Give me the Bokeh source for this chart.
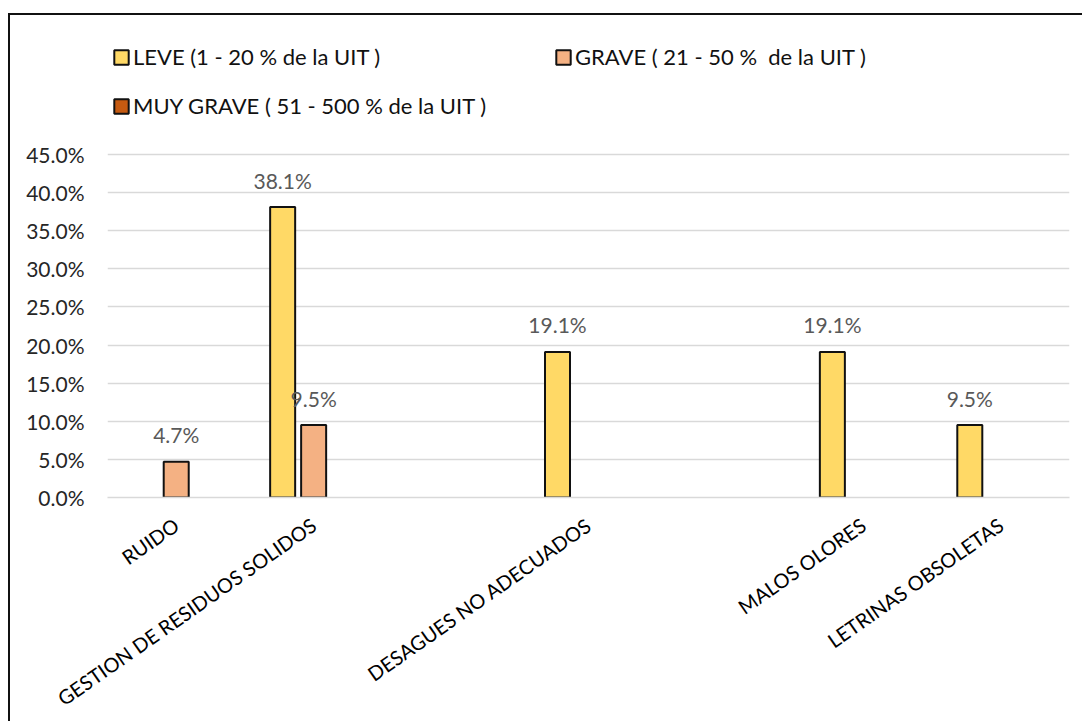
import math
from bokeh.plotting import figure
from bokeh.models import (ColumnDataSource, FixedTicker, PrintfTickFormatter, Legend,
                          LegendItem, Range1d, Spacer)
from bokeh.layouts import column, row
from bokeh.embed import file_html
from bokeh.resources import INLINE
from bokeh.core.properties import value

# ---------------- data ----------------
categories = ["RUIDO", "GESTION DE RESIDUOS SOLIDOS", "", "DESAGUES NO ADECUADOS", "",
              "MALOS OLORES", "LETRINAS OBSOLETAS"]
series_names = ["LEVE (1 - 20 % de la UIT )",
                "GRAVE ( 21 - 50 %  de la UIT )",
                "MUY GRAVE ( 51 - 500 % de la UIT )"]
leve = [None, 38.1, None, 19.1, None, 19.1, 9.5]
grave = [4.7, 9.5, None, None, None, None, None]
muy_grave = [None, None, None, None, None, None, None]
y_ticks = [0, 5, 10, 15, 20, 25, 30, 35, 40, 45]
colors = ["#FFD966", "#F4B183", "#C55A11"]

FONT = "Lato"

p = figure(width=1074, height=708, output_backend="svg", toolbar_location=None,
           x_range=Range1d(-0.5, len(categories) - 0.5), y_range=Range1d(0, 60.22),
           min_border_left=97, min_border_right=15, min_border_top=23, min_border_bottom=226)
p.outline_line_color = None
p.background_fill_color = "white"
p.border_fill_color = "white"
p.styles = {"border-left": "2px solid #111111", "border-top": "2px solid #111111"}

pitch = 0.2255
bar_w = 0.182
renderers = []
for k, (vals, col) in enumerate(zip([leve, grave, muy_grave], colors)):
    off = (k - 1) * pitch
    xs = [i + off for i in range(len(vals))]
    tops = [float("nan") if v is None else v for v in vals]
    src = ColumnDataSource(dict(x=xs, top=tops))
    r = p.vbar(x="x", top="top", width=bar_w, source=src, fill_color=col,
               line_color="#111111", line_width=2)
    renderers.append(r)
    lx = [i + off for i, v in enumerate(vals) if v is not None]
    ly = [v for v in vals if v is not None]
    lsrc = ColumnDataSource(dict(x=lx, y=ly, label=[f"{v:.1f}%" for v in ly]))
    p.text(x="x", y="y", text="label", source=lsrc, text_align="center",
           text_baseline="alphabetic", y_offset=-27, text_color="#595959",
           text_font=value(FONT), text_font_size="21px")

# axes
p.yaxis.ticker = FixedTicker(ticks=y_ticks)
p.yaxis.formatter = PrintfTickFormatter(format="%.1f%%")
p.yaxis.axis_line_color = None
p.yaxis.major_tick_line_color = None
p.yaxis.minor_tick_line_color = None
p.yaxis.major_tick_out = 0
p.yaxis.major_label_standoff = 23
p.yaxis.major_label_text_font = FONT
p.yaxis.major_label_text_font_size = "21px"
p.yaxis.major_label_text_color = "#262626"

p.xaxis.ticker = FixedTicker(ticks=list(range(len(categories))))
p.xaxis.major_label_overrides = {i: c for i, c in enumerate(categories)}
p.xaxis.axis_line_color = "#d9d9d9"
p.xaxis.axis_line_width = 1.5
p.xaxis.major_tick_line_color = None
p.xaxis.minor_tick_line_color = None
p.xaxis.major_tick_out = 0
p.xaxis.major_label_orientation = math.radians(35)
p.xaxis.major_label_standoff = 25
p.xaxis.major_label_text_font = FONT
p.xaxis.major_label_text_font_size = "20px"
p.xaxis.major_label_text_color = "black"

p.xgrid.grid_line_color = None
p.ygrid.ticker = FixedTicker(ticks=y_ticks)
p.ygrid.grid_line_color = "#d9d9d9"
p.ygrid.grid_line_width = 1.5

legend = Legend(items=[LegendItem(label=n, renderers=[r], index=0)
                       for n, r in zip(series_names, renderers)],
                location="top_left", orientation="horizontal", ncols=2,
                margin=5, padding=0, spacing=22, label_width=399, label_height=24,
                glyph_width=18, glyph_height=18, label_standoff=3,
                border_line_color=None, background_fill_alpha=0,
                label_text_font=FONT, label_text_font_size="22px", label_text_color="#111111")
p.add_layout(legend, "center")

layout = column(Spacer(height=13), row(Spacer(width=8), p))
open("out.html", "w").write(file_html(layout, INLINE))
